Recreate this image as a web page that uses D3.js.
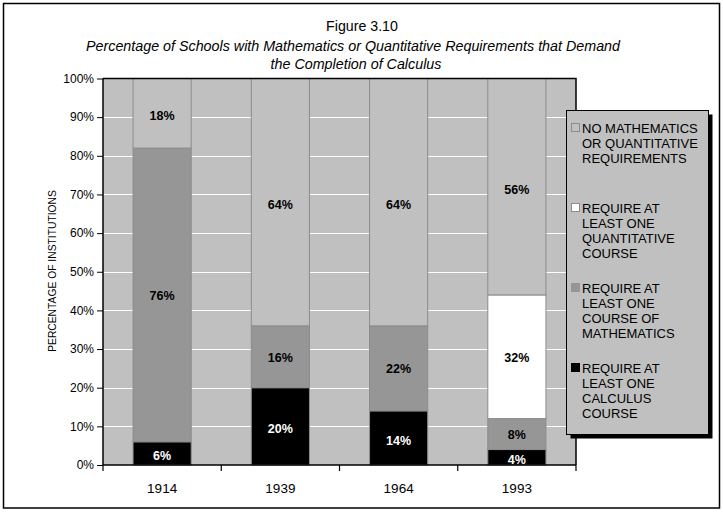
<!DOCTYPE html>
<html>
<head>
<meta charset="utf-8">
<script src="https://cdn.jsdelivr.net/npm/d3@7"></script>
<style>
  html, body { margin: 0; padding: 0; background: #fff; }
  svg { display: block; font-family: "Liberation Sans", Arial, sans-serif; }
</style>
</head>
<body>
<svg id="chart" width="723" height="513"></svg>
<script>
// ---- data ----
const years = ["1914", "1939", "1964", "1993"];
const calculus = [6, 20, 14, 4];
const mathematics = [76, 16, 22, 8];
const quantitative = [0, 0, 0, 32];
const noRequirement = [18, 64, 64, 56];
const yTicks = [0, 10, 20, 30, 40, 50, 60, 70, 80, 90, 100];

const legendLines = [
  ["NO MATHEMATICS", "OR QUANTITATIVE", "REQUIREMENTS"],
  ["REQUIRE AT", "LEAST ONE", "QUANTITATIVE", "COURSE"],
  ["REQUIRE AT", "LEAST ONE", "COURSE OF", "MATHEMATICS"],
  ["REQUIRE AT", "LEAST ONE", "CALCULUS", "COURSE"]
];

(function () {
// ---- build table ----
const keys = ["calc", "math", "quant", "none"];
const table = years.map((yr, i) => ({
  year: yr, calc: calculus[i], math: mathematics[i], quant: quantitative[i], none: noRequirement[i]
}));
const fills = { calc: "#000000", math: "#969696", quant: "#ffffff", none: "#c0c0c0" };
const labelColor = { calc: "#ffffff", math: "#000000", quant: "#000000", none: "#000000" };
const labelShift = { calc: 7, math: 5, quant: 5, none: 7 };

const svg = d3.select("#chart");

// outer frame
svg.append("rect").attr("x", 3.5).attr("y", 3.5).attr("width", 716).attr("height", 504.5)
  .attr("fill", "#fff").attr("stroke", "#000").attr("stroke-width", 1.5);

// titles
svg.append("text").attr("x", 362).attr("y", 31).attr("text-anchor", "middle")
  .attr("font-size", 14.2).text("Figure 3.10");
svg.append("text").attr("x", 353).attr("y", 51).attr("text-anchor", "middle")
  .attr("font-size", 14.3).attr("font-style", "italic")
  .text("Percentage of Schools with Mathematics or Quantitative Requirements that Demand");
svg.append("text").attr("x", 356).attr("y", 69).attr("text-anchor", "middle")
  .attr("font-size", 14.3).attr("font-style", "italic")
  .text("the Completion of Calculus");

// scales
const pL = 103, pR = 576, pT = 78.5, pB = 465;
const x = d3.scaleBand().domain(years).range([pL, pR]).paddingInner(0.5).paddingOuter(0.25);
const y = d3.scaleLinear().domain([0, 100]).range([pB, pT]);

// plot background
svg.append("rect").attr("x", pL).attr("y", pT).attr("width", pR - pL).attr("height", pB - pT)
  .attr("fill", "#c0c0c0");

// gridlines
svg.append("g").selectAll("line").data(yTicks.filter(t => t > 0 && t < 100)).join("line")
  .attr("x1", pL).attr("x2", pR)
  .attr("y1", d => Math.round(y(d)) + 0.5).attr("y2", d => Math.round(y(d)) + 0.5)
  .attr("stroke", "#ffffff").attr("stroke-width", 1);

// stacked bars
const stack = d3.stack().keys(keys)(table);
const g = svg.append("g");
stack.forEach(layer => {
  const k = layer.key;
  g.selectAll(null).data(layer.filter(d => d[1] - d[0] > 0)).join("rect")
    .attr("x", d => x(d.data.year) + 0.5)
    .attr("y", d => y(d[1]))
    .attr("width", x.bandwidth() - 1)
    .attr("height", d => y(d[0]) - y(d[1]))
    .attr("fill", fills[k])
    .attr("stroke", "#8c8c8c").attr("stroke-width", 1);
});
// labels
stack.forEach(layer => {
  const k = layer.key;
  g.selectAll(null).data(layer.filter(d => d[1] - d[0] > 0)).join("text")
    .attr("x", d => x(d.data.year) + x.bandwidth() / 2)
    .attr("y", d => (y(d[0]) + y(d[1])) / 2 + labelShift[k])
    .attr("text-anchor", "middle")
    .attr("font-size", 12.5).attr("font-weight", "bold")
    .attr("fill", labelColor[k])
    .text(d => (d[1] - d[0]) + "%");
});

// plot border: top and right
svg.append("path").attr("d", `M${pL},${pT}H${pR}V${pB}`)
  .attr("fill", "none").attr("stroke", "#000").attr("stroke-width", 1.5);

// y axis
const yAxis = d3.axisLeft(y).tickValues(yTicks).tickFormat(d => d + "%").tickSize(6).tickPadding(3);
const ya = svg.append("g").attr("transform", `translate(${pL},0)`).call(yAxis);
ya.select(".domain").attr("stroke", "#000").attr("stroke-width", 1.5).attr("d", `M0,${pT}V${pB}`);
ya.selectAll(".tick line").attr("stroke", "#000");
ya.selectAll(".tick text").attr("font-size", 12).attr("font-family", "Liberation Sans, Arial, sans-serif").attr("fill", "#000");

// x axis
const xAxis = d3.axisBottom(x).tickSize(0).tickPadding(18);
const xa = svg.append("g").attr("transform", `translate(0,${pB})`).call(xAxis);
xa.select(".domain").attr("stroke", "#000").attr("stroke-width", 1.5).attr("d", `M${pL},0H${pR}`);
xa.selectAll(".tick text").attr("font-size", 13.5).attr("font-family", "Liberation Sans, Arial, sans-serif").attr("fill", "#000");
const gap = (x.step() - x.bandwidth()) / 2;
const bounds = years.map(d => x(d) - gap).concat([x(years[years.length - 1]) + x.bandwidth() + gap]);
xa.selectAll(".bnd").data(bounds).join("line").attr("class", "bnd")
  .attr("x1", d => d).attr("x2", d => d).attr("y1", 0).attr("y2", 6)
  .attr("stroke", "#000").attr("stroke-width", 1.2);

// y axis title
svg.append("text").attr("transform", "translate(56,271) rotate(-90)")
  .attr("text-anchor", "middle").attr("font-size", 10.3).text("PERCENTAGE OF INSTITUTIONS");

// legend
const lx = 566.5, ly = 110.5, lw = 142, lh = 324;
svg.append("rect").attr("x", lx + 4).attr("y", ly + 4).attr("width", lw).attr("height", lh).attr("fill", "#000");
svg.append("rect").attr("x", lx).attr("y", ly).attr("width", lw).attr("height", lh)
  .attr("fill", "#c0c0c0").attr("stroke", "#000").attr("stroke-width", 1);
const legendKeys = ["none", "quant", "math", "calc"];
legendKeys.forEach((k, i) => {
  const cy = 128 + i * 80;
  svg.append("rect").attr("x", 571.5).attr("y", cy - 4.5).attr("width", 8).attr("height", 8)
    .attr("fill", fills[k]).attr("stroke", k === "calc" ? "#000" : (k === "math" ? "#969696" : "#8c8c8c"));
  const t = svg.append("text").attr("x", 582).attr("font-size", 13).attr("fill", "#000");
  legendLines[i].forEach((line, j) => {
    t.append("tspan").attr("x", 582).attr("y", cy + 5 + j * 15).text(line);
  });
});
})();
</script>
</body>
</html>
